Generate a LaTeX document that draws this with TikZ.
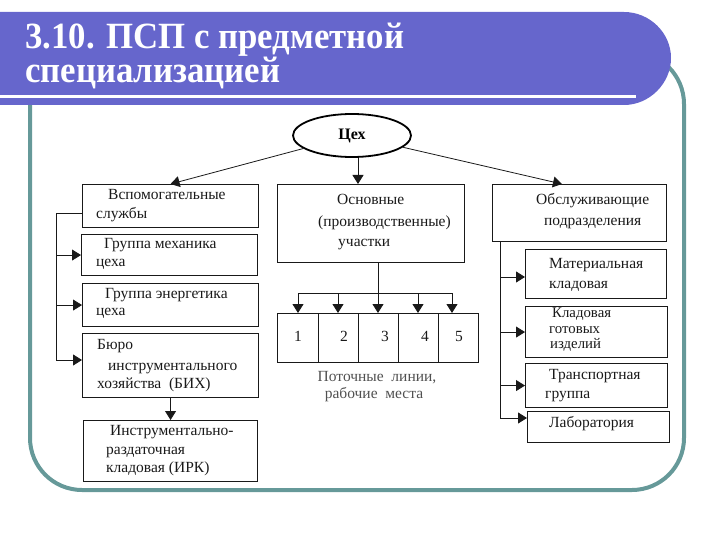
\documentclass[tikz,border=0pt]{standalone}
\usepackage{fontspec}
\setmainfont{Liberation Serif}
\usetikzlibrary{arrows.meta,shapes.geometric}
\definecolor{bannerblue}{RGB}{102,102,204}
\definecolor{frameteal}{RGB}{102,153,153}
\definecolor{ink}{RGB}{25,25,25}
\definecolor{capgrey}{RGB}{80,80,80}
\newcommand\mkbox[5]{\node[box,anchor=north west,minimum width=#4pt,minimum height=#5pt,inner sep=0pt] (#1) at (#2,#3) {};}
\begin{document}
\begin{tikzpicture}[x=1pt,y=-1pt,
  box/.style={draw=ink, line width=1.1pt},
  txt/.style={anchor=west, inner sep=0pt, text height=0.55em, text depth=0.1em, font=\fontsize{15.5}{18}\selectfont, text=ink},
  smalltxt/.style={txt, font=\fontsize{14.8}{16}\selectfont},
  captxt/.style={txt, anchor=center, text=capgrey},
  conn/.style={draw=ink, line width=0.8pt},
  arr/.style={conn, -{Triangle[length=9pt,width=11pt]}},
  ttl/.style={anchor=base west, inner sep=0pt, text=white, xscale=0.94, font=\fontsize{37}{40}\selectfont\bfseries}]
\useasboundingbox (0,0) rectangle (720,540);
% frame
\draw[frameteal, line width=4pt, rounded corners=52pt] (30,52) rectangle (684,490);
% banner
\fill[bannerblue] (0,12) -- (624,12) .. controls (649.4,12) and (671,32.6) .. (671,58)
  .. controls (671,83.4) and (649.4,105) .. (624,105) -- (0,105) -- cycle;
\draw[white, line width=3pt] (0,97) -- (636,97);
\node[ttl] (title1) at (25,49) {3.10. ПСП с предметной};
\node[ttl] (title2) at (25,83) {специализацией};
% top ellipse
\node[ellipse, draw=black, line width=1.8pt, minimum width=118pt, minimum height=43pt, inner sep=0pt] (tseh) at (352,135.5) {\fontsize{16}{18}\selectfont\bfseries Цех};
% boxes
\mkbox{vsp}{82}{184}{176}{43}
\mkbox{mech}{81}{234}{176}{41}
\mkbox{energ}{82}{283}{176}{43}
\mkbox{bih}{82}{333}{176}{64}
\mkbox{irk}{83}{420}{174}{61}
\mkbox{osn}{277}{184}{187}{78}
\mkbox{c1}{277}{313}{41}{49}
\mkbox{c2}{318}{313}{40}{49}
\mkbox{c3}{358}{313}{40}{49}
\mkbox{c4}{398}{313}{40}{49}
\mkbox{c5}{438}{313}{40}{49}
\mkbox{obs}{492}{184}{174}{57}
\mkbox{mat}{525}{249}{141}{49}
\mkbox{klad}{525}{306}{142}{51}
\mkbox{trans}{525}{363}{142}{44}
\mkbox{lab}{527}{411}{142}{31}
% texts
\node[txt] (tv1) at (108,197) {Вспомогательные};
\node[txt] (tv2) at (96,216) {службы};
\node[txt] (tm1) at (104,246) {Группа механика};
\node[txt] (tm2) at (96,264) {цеха};
\node[txt] (te1) at (105,296) {Группа энергетика};
\node[txt] (te2) at (96,313) {цеха};
\node[txt] (tb1) at (97,347) {Бюро};
\node[txt] (tb2) at (108,368) {инструментального};
\node[txt] (tb3) at (97,386) {хозяйства\ \ (БИХ)};
\node[txt] (ti1) at (110,433) {Инструментально-};
\node[txt] (ti2) at (106,452) {раздаточная};
\node[txt] (ti3) at (106,470) {кладовая (ИРК)};
\node[txt] (to1) at (337,202) {Основные};
\node[txt] (to2) at (318,224) {(производственные)};
\node[txt] (to3) at (338,244) {участки};
\node[txt, anchor=center] (n1) at (298,339) {1};
\node[txt, anchor=center] (n2) at (344,339) {2};
\node[txt, anchor=center] (n3) at (385,339) {3};
\node[txt, anchor=center] (n4) at (425,339) {4};
\node[txt, anchor=center] (n5) at (459,339) {5};
\node[captxt] (cap1) at (377,379) {Поточные\ \ линии,};
\node[captxt] (cap2) at (374,396) {рабочие\ \ места};
\node[txt] (tob1) at (536,202) {Обслуживающие};
\node[txt] (tob2) at (544,223) {подразделения};
\node[txt] (tma1) at (549,266) {Материальная};
\node[txt] (tma2) at (549,286) {кладовая};
\node[smalltxt] (tk1) at (552,315) {Кладовая};
\node[smalltxt] (tk2) at (549,331) {готовых};
\node[smalltxt] (tk3) at (550,346) {изделий};
\node[txt] (tt1) at (549,377) {Транспортная};
\node[txt] (tt2) at (545,396) {группа};
\node[txt] (tl1) at (549,425) {Лаборатория};
% connectors from Цех
\coordinate (osnin) at (358,184);
\coordinate (obsin) at (562,184);
\draw[arr] (tseh) -- (vsp.north);
\draw[arr] (tseh.south -| osnin) -- (osnin);
\draw[arr] (tseh) -- (obsin);
% left trunk
\coordinate (lt) at (56,213);
\coordinate (lb) at (56,360);
\draw[conn] (vsp.west |- lt) -- (lt) -- (lb);
\draw[arr] (lt |- mech.west) -- (mech.west);
\draw[arr] (lt |- energ.west) -- (energ.west);
\draw[arr] (lb) -- (lb -| bih.west);
\draw[arr] (bih.south) -- (bih.south |- irk.north);
% middle distribution
\coordinate (mj) at (378,293);
\coordinate (m1) at (298,293);
\coordinate (m2) at (338,293);
\coordinate (m4) at (418,293);
\coordinate (m5) at (452,293);
\draw[conn] (osn.south -| mj) -- (mj);
\draw[conn] (m1) -- (m5);
\draw[arr] (m1) -- (m1 |- c1.north);
\draw[arr] (m2) -- (m2 |- c2.north);
\draw[arr] (mj) -- (mj |- c3.north);
\draw[arr] (m4) -- (m4 |- c4.north);
\draw[arr] (m5) -- (m5 |- c5.north);
% right trunk
\coordinate (rt) at (500,241);
\coordinate (rb) at (500,418);
\coordinate (rm) at (500,277);
\draw[conn] (rt) -- (rb);
\draw[arr] (rm) -- (rm -| mat.west);
\draw[arr] (rt |- klad.west) -- (klad.west);
\draw[arr] (rt |- trans.west) -- (trans.west);
\draw[arr] (rb) -- (rb -| lab.west);
\end{tikzpicture}
\end{document}
